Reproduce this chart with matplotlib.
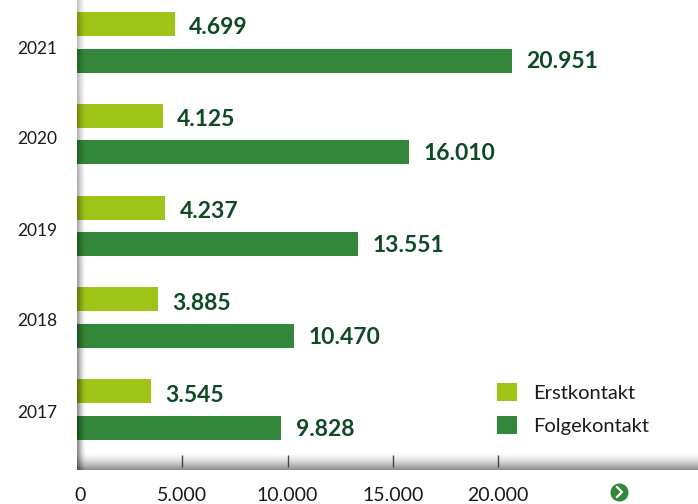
import numpy as np, matplotlib.pyplot as plt
from matplotlib.lines import Line2D

W, H = 698, 504
LIGHT, DARK, LABEL = "#9ec417", "#33873a", "#0e4a24"

years = ["2021", "2020", "2019", "2018", "2017"]
erst = [4699, 4125, 4237, 3885, 3545]
folge = [20951, 16010, 13551, 10470, 9828]
erst_txt = ["4.699", "4.125", "4.237", "3.885", "3.545"]
folge_txt = ["20.951", "16.010", "13.551", "10.470", "9.828"]
tick_txt = ["0", "5.000", "10.000", "15.000", "20.000"]
# the printed scale is a bit tighter than the bars, so ticks don't sit on round values
tick_pos = [140, 5070, 10150, 15230, 20290]

plt.rcParams["font.family"] = ["Lato", "DejaVu Sans"]
fig = plt.figure(figsize=(W/100, H/100), dpi=100)
ax = fig.add_axes([77/W, 1-470/H, 621/W, 470/H])
XMAX = 621/20.75*1000
for s in ax.spines.values():
    s.set_visible(False)

y = np.array([24 + 91.75*i for i in range(5)])
b1 = ax.barh(y, erst, height=24, color=LIGHT, label="Erstkontakt", zorder=2)
b2 = ax.barh(y+36.5, folge, height=24, color=DARK, label="Folgekontakt", zorder=2)
for i in range(5):
    ax.annotate(erst_txt[i], (erst[i], y[i]+4), xytext=(10.5, 0), textcoords="offset points",
                color=LABEL, fontsize=16.5, weight="bold", va="center")
    ax.annotate(folge_txt[i], (folge[i], y[i]+38), xytext=(10.5, 0), textcoords="offset points",
                color=LABEL, fontsize=16.5, weight="bold", va="center")

ax.set_yticks([47 + 91*i for i in range(5)], years)
ax.tick_params(axis="y", length=0, pad=14, labelsize=12.5, labelcolor="#1a1a1a")
ax.set_xticks(tick_pos, tick_txt)
ax.tick_params(axis="x", length=0, pad=12, labelsize=14, labelcolor="#1a1a1a")
ax.vlines(tick_pos[1:], 455, 467, color="#444444", lw=1, zorder=4)

# soft shadow along both axes, left one fades towards the top
g = np.zeros((64, 64, 4))
g[..., 3] = np.linspace(0.5, 1, 64)[:, None] * np.linspace(0.62, 0, 64)**1.4
ax.imshow(g, extent=(0, 420, 470, 0), aspect="auto", zorder=3)
g2 = np.zeros((64, 1, 4)); g2[..., 3] = (np.linspace(0, 0.62, 64)**1.6)[:, None]
ax.imshow(g2, extent=(0, XMAX, 470, 452), aspect="auto", zorder=3)
ax.set_xlim(0, XMAX); ax.set_ylim(470, 0)

ax.legend(handles=[b1, b2], loc="upper left", bbox_to_anchor=(420/621, 1-383/470), frameon=False,
          fontsize=14.5, handlelength=1.0, handleheight=1.0, handletextpad=0.8,
          labelspacing=0.72, labelcolor="#1a1a1a", borderpad=0, borderaxespad=0)

# round arrow button at bottom right
fig.add_artist(Line2D([619/W], [1-492/H], marker="o", ms=13, color=DARK, mew=0, transform=fig.transFigure))
fig.add_artist(Line2D([617/W, 622/W, 617/W], [1-487/H, 1-492/H, 1-497/H], color="white", lw=1.6,
                      transform=fig.transFigure))

fig.savefig("out.png", dpi=100)
